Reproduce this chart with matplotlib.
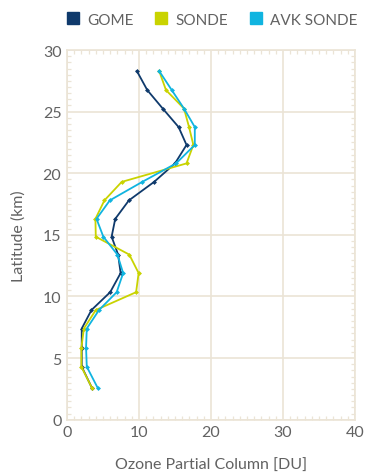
import matplotlib
matplotlib.use("Agg")
import matplotlib.pyplot as plt
from matplotlib.lines import Line2D
from matplotlib.ticker import MultipleLocator

# altitude levels shared by all profiles (km)
altitude = [28.3, 26.75, 25.25, 23.75, 22.3, 20.8, 19.3, 17.8, 16.3, 14.85,
            13.4, 11.9, 10.35, 8.9, 7.4, 5.85, 4.3, 2.6]

gome = [9.7, 11.15, 13.3, 15.5, 16.6, 15.0, 12.1, 8.6, 6.7, 6.2,
        7.1, 7.45, 6.0, 3.4, 2.05, 2.05, 2.05, 3.45]
sonde = [12.8, 13.75, 16.25, 16.95, 17.55, 16.6, 7.6, 5.2, 3.95, 4.0,
         8.65, 9.95, 9.6, 4.0, 2.35, 2.0, 2.0, 3.45]
avk_sonde = [12.8, 14.55, 16.25, 17.75, 17.75, 15.15, 10.45, 5.95, 4.1, 5.05,
             7.0, 7.8, 6.9, 4.45, 2.75, 2.65, 2.75, 4.25]

series_names = ["GOME", "SONDE", "AVK SONDE"]
series_colors = ["#0f3a6c", "#c9d300", "#10b4e0"]

plt.rcParams["font.family"] = ["Lato", "DejaVu Sans"]
text_color = "#626262"
frame_color = "#ebe4d6"

fig = plt.figure(figsize=(3.66, 4.77), dpi=100)
ax = fig.add_axes([0.183, 0.118, 0.787, 0.775])

for vals, name, col in zip([gome, sonde, avk_sonde], series_names, series_colors):
    ax.plot(vals, altitude, color=col, lw=1.3, marker="D", ms=2.5,
            markeredgewidth=0, label=name, zorder=3)

ax.set_xlim(0, 40)
ax.set_ylim(0, 30)
ax.xaxis.set_major_locator(MultipleLocator(10))
ax.yaxis.set_major_locator(MultipleLocator(5))
ax.xaxis.set_minor_locator(MultipleLocator(1))
ax.yaxis.set_minor_locator(MultipleLocator(0.5))

ax.grid(which="major", color=frame_color, lw=1.2)
ax.set_axisbelow(True)
for sp in ax.spines.values():
    sp.set_color(frame_color)
    sp.set_linewidth(1.2)

ax.tick_params(which="major", length=0, labelsize=11.5, labelcolor=text_color, pad=4)
ax.tick_params(which="minor", direction="in", length=3, color=frame_color,
               width=0.9, top=True, right=True)

ax.set_xlabel("Ozone Partial Column [DU]", fontsize=11.5, color=text_color, labelpad=13)
ax.set_ylabel("Latitude (km)", fontsize=11.5, color=text_color, labelpad=12)

handles = [Line2D([], [], marker="s", ls="none", color=c, ms=9) for c in series_colors]
fig.legend(handles, series_names, loc="upper left", bbox_to_anchor=(0.14, 1.0),
           ncol=3, frameon=False, fontsize=11, labelcolor=text_color,
           handletextpad=0.45, columnspacing=1.3, handlelength=1.0)

fig.savefig("out.png", dpi=100, facecolor="white")
